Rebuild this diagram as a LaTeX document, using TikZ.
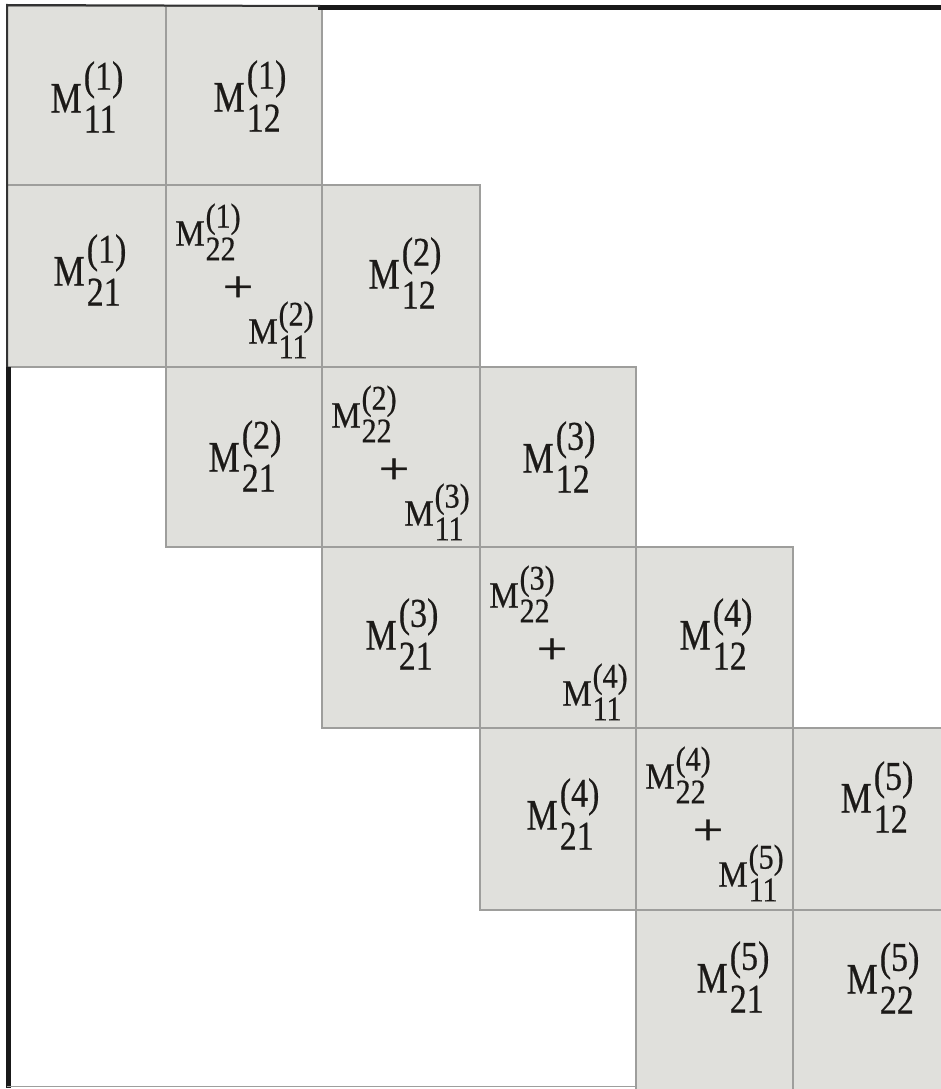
\documentclass[tikz,border=0pt]{standalone}
\usepackage{fontspec}
\setmainfont{Liberation Serif}
\newfontfamily\labfont{Liberation Serif}[FakeBold=0.6]
\usepackage{graphicx}
\definecolor{cellfill}{RGB}{224,224,220}
\definecolor{cellline}{RGB}{158,158,156}
\definecolor{inkc}{RGB}{28,26,24}
\newcommand\bigM[2]{{\labfont\fontsize{34}{40}\selectfont\scalebox{1.03}[1.28]{M}\kern0.06em\scalebox{1}[1.2]{\ooalign{\raisebox{0.56em}{(#2)}\cr\raisebox{-0.49em}{#1}\cr}}}}
\newcommand\smallM[2]{{\labfont\fontsize{30}{36}\selectfont\scalebox{1.1}[1.23]{M}\kern0.03em\scalebox{1}[1.15]{\ooalign{\raisebox{0.52em}{(#2)}\cr\raisebox{-0.43em}{#1}\cr}}}}
\newcommand\bigplus{\scalebox{1}[0.82]{\labfont\fontsize{54}{60}\selectfont +}}
\tikzset{
  cell/.style={fill=cellfill,draw=cellline,line width=1.3pt},
  lab/.style={inner sep=0pt,text=inkc},
  frame/.style={draw=black!90,line width=5pt},
  thinframe/.style={draw=cellline,line width=1.6pt},
  darkedge/.style={draw=black!80,line width=2pt}
}
\begin{document}
\begin{tikzpicture}[x=1pt,y=-1pt]
\useasboundingbox[fill=white] (0,0) rectangle (941,1089);
% cells
\path[cell] (7,6) rectangle (166,185);
\path[cell] (166,6) rectangle (322,185);
\path[cell] (7,185) rectangle (166,367);
\path[cell] (166,185) rectangle (322,367);
\path[cell] (322,185) rectangle (480,367);
\path[cell] (166,367) rectangle (322,547);
\path[cell] (322,367) rectangle (480,547);
\path[cell] (480,367) rectangle (636,547);
\path[cell] (322,547) rectangle (480,728);
\path[cell] (480,547) rectangle (636,728);
\path[cell] (636,547) rectangle (793,728);
\path[cell] (480,728) rectangle (636,910);
\path[cell] (636,728) rectangle (793,910);
\path[cell] (793,728) rectangle (948,910);
\path[cell] (636,910) rectangle (793,1095);
\path[cell] (793,910) rectangle (948,1095);
% frame lines
\coordinate (tl) at (318,7.5);
\coordinate (tr) at (945,7.5);
\coordinate (lt) at (7,5);
\coordinate (ll) at (8.5,367);
\coordinate (lb) at (8.5,1088);
\coordinate (bl) at (7,1086.5);
\coordinate (br) at (636,1086.5);
\coordinate (tm) at (320,6);
\draw[frame] (tl) -- (tr);
\draw[darkedge] (tm) -- (lt) -- (lt |- ll);
\draw[frame] (ll) -- (lb);
\draw[thinframe] (bl) -- (br);
% simple labels
\node[lab] (m11a) at (87,97) {\bigM{11}{1}};
\node[lab] (m12a) at (250,96) {\bigM{12}{1}};
\node[lab] (m21a) at (90,270) {\bigM{21}{1}};
\node[lab] (m12b) at (405,273) {\bigM{12}{2}};
\node[lab] (m21b) at (245,456) {\bigM{21}{2}};
\node[lab] (m12c) at (559,457) {\bigM{12}{3}};
\node[lab] (m21c) at (402,634) {\bigM{21}{3}};
\node[lab] (m12d) at (716,634) {\bigM{12}{4}};
\node[lab] (m21d) at (563,814) {\bigM{21}{4}};
\node[lab] (m12e) at (877,797) {\bigM{12}{5}};
\node[lab] (m21e) at (733,977) {\bigM{21}{5}};
\node[lab] (m22e) at (883,978) {\bigM{22}{5}};
% combined cells
\foreach \i/\x/\y/\a/\b in {1/166/185/1/2, 2/322/367/2/3, 3/480/547/3/4, 4/636/728/4/5}{
  \node[lab] (s\i a) at (\x+42,\y+47) {\smallM{22}{\a}};
  \node[lab] (p\i) at (\x+72,\y+104) {\bigplus};
  \node[lab] (s\i b) at (\x+115,\y+145) {\smallM{11}{\b}};
}
\end{tikzpicture}
\end{document}
